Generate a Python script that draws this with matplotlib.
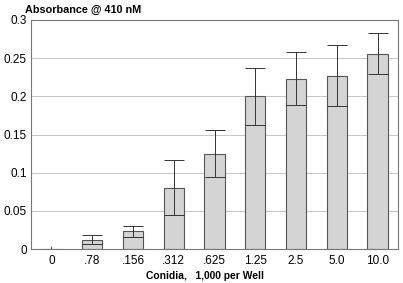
import numpy as np
import matplotlib
matplotlib.use("Agg")
import matplotlib.pyplot as plt

# data
categories = ["0", ".78", ".156", ".312", ".625", "1.25", "2.5", "5.0", "10.0"]
absorbance = [0.0, 0.012, 0.023, 0.080, 0.125, 0.200, 0.223, 0.227, 0.256]
err = [0.003, 0.006, 0.0075, 0.036, 0.031, 0.037, 0.035, 0.040, 0.027]
yticks = [0, 0.05, 0.1, 0.15, 0.2, 0.25, 0.3]
ytick_labels = ["0", "0.05", "0.1", "0.15", "0.2", "0.25", "0.3"]

plt.rcParams['font.family'] = ['Liberation Sans', 'DejaVu Sans']

fig = plt.figure(figsize=(4.03, 2.83), dpi=100)
ax = fig.add_axes([31/403, 1 - 249/283, 367/403, 229/283])

x = np.arange(len(categories))
ax.bar(x, absorbance, width=0.5, color='#d4d4d4', edgecolor='#555555',
       linewidth=0.8, zorder=2)
# zero sample: only a short stub, no cap
ax.errorbar(x[:1], absorbance[:1], yerr=[[0], [err[0]]], fmt='none',
            ecolor='#333333', elinewidth=0.7, capsize=0, zorder=3)
ax.errorbar(x[1:], absorbance[1:], yerr=err[1:], fmt='none', ecolor='#333333',
            elinewidth=0.7, capsize=7.5, capthick=0.7, zorder=3)

ax.set_xlim(-0.5, len(categories) - 0.5)
ax.set_ylim(0, 0.3)
ax.set_yticks(yticks)
ax.set_yticklabels(ytick_labels)
ax.set_xticks(x)
ax.set_xticklabels(categories)
ax.yaxis.grid(True, color='#bbbbbb', linewidth=0.6, zorder=0)
ax.set_axisbelow(True)

ax.tick_params(axis='y', length=0, labelsize=8.5, pad=3)
ax.tick_params(axis='x', direction='in', length=2.5, width=0.6,
               color='#555555', labelsize=8.5, pad=4)
for s in ax.spines.values():
    s.set_color('#777777')
    s.set_linewidth(0.8)

ax.set_xlabel("Conidia,   1,000 per Well", fontsize=7.4, fontweight='bold',
              va='center')
ax.xaxis.set_label_coords((205 - 31) / 367, -(276 - 249) / 229)
fig.text(25/403, 1 - 10/283, "Absorbance @ 410 nM", fontsize=7.8,
         fontweight='bold', va='center', ha='left')

fig.savefig("out.png", dpi=100)
